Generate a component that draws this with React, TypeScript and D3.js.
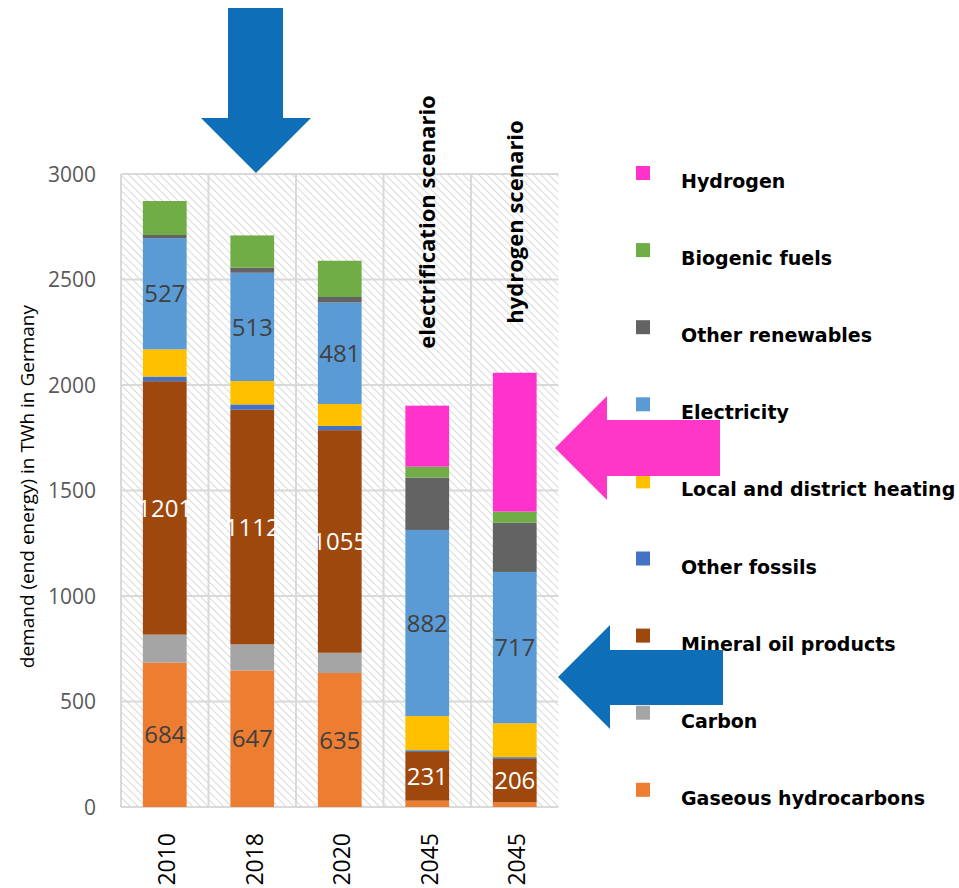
import React from 'react';
import * as d3 from 'd3';

const categories = ['2010', '2018', '2020', '2045', '2045'];
const scenarioLabels = ['', '', '', 'electrification scenario', 'hydrogen scenario'];

const seriesNames = [
  'Gaseous hydrocarbons',
  'Carbon',
  'Mineral oil products',
  'Other fossils',
  'Local and district heating',
  'Electricity',
  'Other renewables',
  'Biogenic fuels',
  'Hydrogen',
];

const gaseous = [684, 647, 635, 30, 22];
const carbon = [133, 124, 96, 0, 0];
const mineralOil = [1201, 1112, 1055, 231, 206];
const otherFossils = [22, 25, 20, 8, 8];
const heating = [129, 111, 104, 162, 161];
const electricity = [527, 513, 481, 882, 717];
const otherRenewables = [15, 24, 26, 248, 233];
const biogenic = [161, 153, 172, 52, 53];
const hydrogen = [0, 0, 0, 289, 658];

const seriesValues = [gaseous, carbon, mineralOil, otherFossils, heating, electricity, otherRenewables, biogenic, hydrogen];

const seriesColors = ['#ED7D31', '#A5A5A5', '#9E480E', '#4472C4', '#FFC000', '#5B9BD5', '#636363', '#70AD47', '#FF33CC'];

// which segments carry a value label, and in which colour
const labelledSeries: Record<string, string> = {
  'Gaseous hydrocarbons': '#404040',
  'Mineral oil products': '#ffffff',
  'Electricity': '#404040',
};
const gaseousLabelledBars = [0, 1, 2];

const yTicks = [0, 500, 1000, 1500, 2000, 2500, 3000];
const yTitle = 'demand (end energy) in TWh in Germany';

// legend is listed top to bottom
const legendOrder = [...seriesNames].reverse();

const App: React.FC = () => {
  const width = 959;
  const height = 888;
  const plot = { left: 121, right: 558.5, top: 174, bottom: 807 };

  const y = d3.scaleLinear().domain([0, 3000]).range([plot.bottom, plot.top]);
  const x = d3.scaleBand<number>()
    .domain(categories.map((_, i) => i))
    .range([plot.left, plot.right])
    .paddingInner(0.5)
    .paddingOuter(0.25);
  const step = x.step();
  const bw = x.bandwidth();
  const gap = (step - bw) / 2;

  const table = categories.map((_, i) => {
    const row: Record<string, number> = {};
    seriesNames.forEach((s, k) => { row[s] = seriesValues[k][i]; });
    return row;
  });
  const stacked = d3.stack<Record<string, number>>().keys(seriesNames)(table);

  const boundaries = categories.map((_, i) => (x(i) as number) - gap);

  const fontNum = '"Open Sans", "Liberation Sans", sans-serif';

  return (
    <svg width={width} height={height} style={{ position: 'absolute', left: 0, top: 0, background: '#fff' }}>
      <defs>
        <pattern id="hatch" patternUnits="userSpaceOnUse" width={5.5} height={5.5} patternTransform="rotate(-45)">
          <line x1={0} y1={0} x2={0} y2={5.5} stroke="#d0d0d0" strokeWidth={1.6} />
        </pattern>
      </defs>

      <rect x={plot.left} y={plot.top} width={plot.right - plot.left} height={plot.bottom - plot.top} fill="url(#hatch)" />

      {yTicks.map(t => (
        <line key={'h' + t} x1={plot.left} x2={plot.right} y1={y(t)} y2={y(t)} stroke="#d9d9d9" strokeWidth={2} />
      ))}
      {boundaries.map((bx, i) => (
        <line key={'v' + i} x1={bx} x2={bx} y1={plot.top} y2={plot.bottom} stroke="#d9d9d9" strokeWidth={2} />
      ))}

      {stacked.map((layer, k) => (
        <g key={layer.key} fill={seriesColors[k]}>
          {layer.map((d, i) => (
            d[1] - d[0] > 0 ? (
              <rect key={i} x={x(i)} width={bw} y={y(d[1])} height={y(d[0]) - y(d[1])} />
            ) : null
          ))}
        </g>
      ))}

      {stacked.map(layer => {
        const col = labelledSeries[layer.key];
        if (!col) return null;
        return layer.map((d, i) => {
          if (layer.key === 'Gaseous hydrocarbons' && !gaseousLabelledBars.includes(i)) return null;
          const cx = (x(i) as number) + bw / 2;
          const cy = (y(d[0]) + y(d[1])) / 2;
          return (
            <text key={layer.key + i} x={cx} y={cy} dy="0.36em" textAnchor="middle" fontSize={24}
              fontFamily={fontNum} fill={col}>
              {d[1] - d[0]}
            </text>
          );
        });
      })}

      {yTicks.map(t => (
        <text key={'yt' + t} x={96} y={y(t)} dy="0.36em" textAnchor="end" fontSize={21} fontFamily={fontNum} fill="#595959">
          {t}
        </text>
      ))}

      <text transform="translate(27,305) rotate(-90)" dy="0.35em" textAnchor="end" fontSize={19}
        fontFamily={fontNum} fill="#000">
        {yTitle}
      </text>

      {categories.map((c, i) => (
        <text key={'c' + i} transform={`translate(${(x(i) as number) + bw / 2 + 2},833) rotate(-90)`} dy="0.36em"
          textAnchor="end" fontSize={23} fontFamily={fontNum} fill="#000">
          {c}
        </text>
      ))}

      {scenarioLabels.map((s, i) => s ? (
        <text key={'s' + i} transform={`translate(${(x(i) as number) + bw / 2},222) rotate(-90)`} dy="0.36em"
          textAnchor="middle" fontSize={22} fontWeight="bold" fontFamily={fontNum} fill="#000">
          {s}
        </text>
      ) : null)}

      {legendOrder.map((name, j) => {
        const k = seriesNames.indexOf(name);
        const base = 188 + j * 77.1;
        return (
          <g key={name}>
            <rect x={636} y={base - 22} width={14} height={14} fill={seriesColors[k]} />
            <text x={681} y={base} fontSize={19} fontWeight="bold" fontFamily='"DejaVu Sans", sans-serif' fill="#000">
              {name}
            </text>
          </g>
        );
      })}

      {/* annotation arrows */}
      <polygon points="228,8 283,8 283,118 311,118 256,173 201,118 228,118" fill="#0E6EB8" />
      <polygon points="555,448 607,396 607,420 720,420 720,476 607,476 607,500" fill="#FF37C8" />
      <polygon points="558,677 610,625 610,650 723,650 723,705 610,705 610,729" fill="#0E6EB8" />
    </svg>
  );
};

export default App;
